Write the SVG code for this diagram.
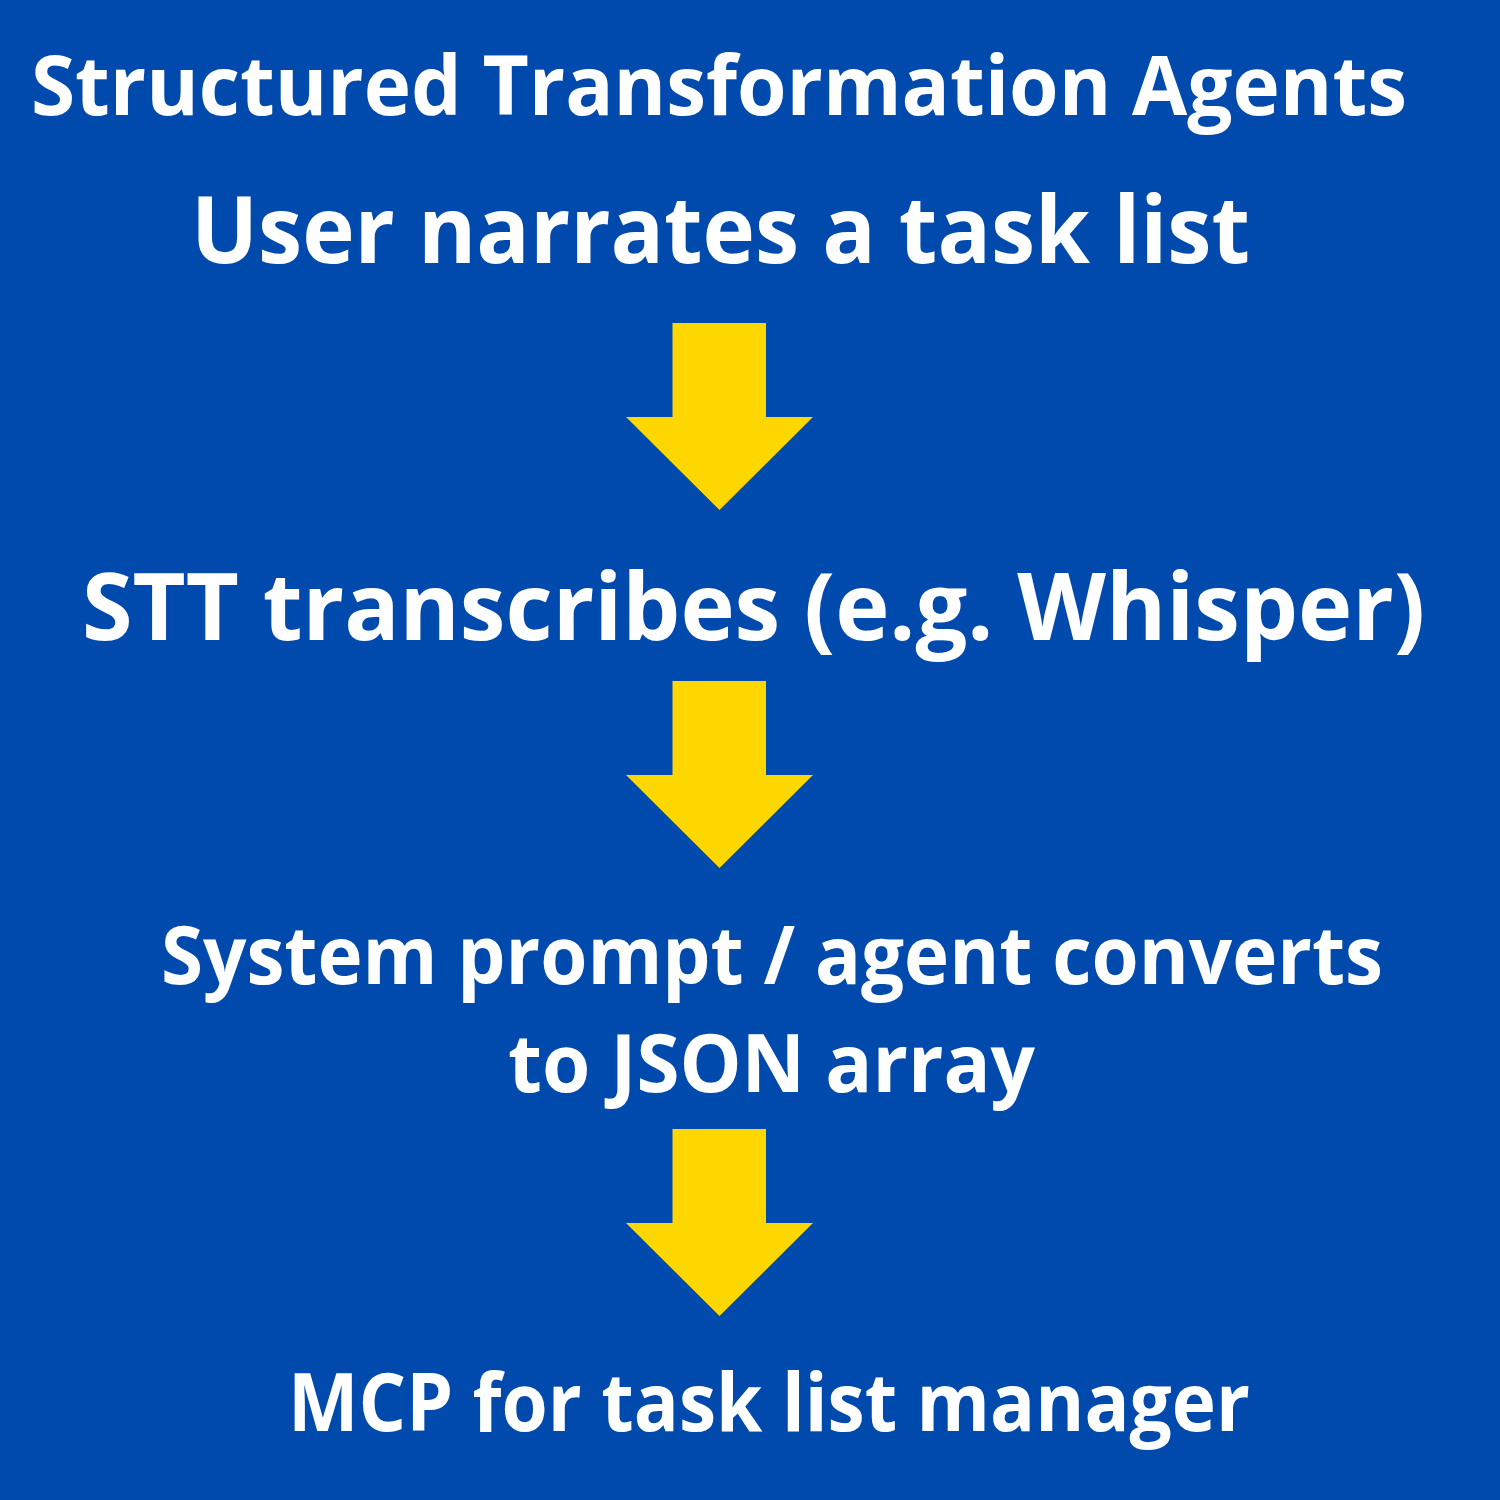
<svg xmlns="http://www.w3.org/2000/svg" width="1500" height="1500" viewBox="0 0 1500 1500">
<style>
.t{font-family:"Open Sans","Noto Sans","Liberation Sans",sans-serif;font-weight:700;fill:#ffffff}
.arr{fill:#FFD700}
</style>
<defs>
<path id="arrow" class="arr" d="M672.5,0 H766 V94 H813 L719.5,187 L626,94 H672.5 Z"/>
</defs>
<rect width="1500" height="1500" fill="#004AAD"/>
<g id="title"><text class="t" x="31" y="115" font-size="83" textLength="1376" lengthAdjust="spacingAndGlyphs">Structured Transformation Agents</text></g>
<g id="node-user"><text class="t" x="191" y="263" font-size="94" textLength="1059" lengthAdjust="spacingAndGlyphs">User narrates a task list</text></g>
<g id="node-stt"><text class="t" x="82" y="640" font-size="94" textLength="1343" lengthAdjust="spacingAndGlyphs">STT transcribes (e.g. Whisper)</text></g>
<g id="node-agent">
<text class="t" x="161" y="984" font-size="80" textLength="1222" lengthAdjust="spacingAndGlyphs">System prompt / agent converts</text>
<text class="t" x="508" y="1092" font-size="80" textLength="527" lengthAdjust="spacingAndGlyphs">to JSON array</text>
</g>
<g id="node-mcp"><text class="t" x="288" y="1431" font-size="80" textLength="962" lengthAdjust="spacingAndGlyphs">MCP for task list manager</text></g>
<g id="connectors">
<use href="#arrow" y="323"/>
<use href="#arrow" y="681"/>
<use href="#arrow" y="1129"/>
</g>
</svg>
